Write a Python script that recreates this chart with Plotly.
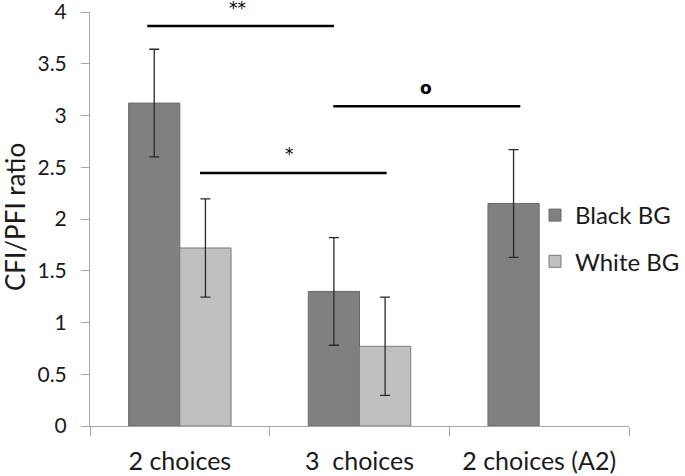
import plotly.graph_objects as go

categories = ["2 choices", "3  choices", "2 choices (A2)"]
black_vals = [3.12, 1.30, 2.15]
black_err = [0.52, 0.52, 0.52]
white_vals = [1.72, 0.77, None]
white_err = [0.475, 0.475, None]

# significance brackets
sig_x0 = [-0.181, 0.112, 0.854]
sig_x1 = [0.858, 1.151, 1.895]
sig_y = [3.865, 2.444, 3.089]
sig_labels = ["**", "*", "<b>o</b>"]
sig_label_x = [0.320, 0.613, 1.370]

FONT = "Lato"
SYMFONT = "DejaVu Sans"
Y_MAX = 4
label_shift = [17.5, 19.5, 18]

W, H = 685, 476
L, T, B = 90, 12, 50
PLOT_RIGHT = 629
PAPER_W = W - L

fig = go.Figure()
fig.add_trace(go.Bar(
    x=categories, y=black_vals, name="Black BG", legendgroup="a",
    marker=dict(color="#808080", line=dict(color="#6a6a6a", width=1)),
    error_y=dict(type="data", array=black_err, color="#2a2a2a", thickness=1.3, width=5),
))
fig.add_trace(go.Bar(
    x=categories, y=white_vals, name="White BG", legendgroup="b",
    marker=dict(color="#c0c0c0", line=dict(color="#7a7a7a", width=1)),
    error_y=dict(type="data", array=white_err, color="#2a2a2a", thickness=1.3, width=5),
))

for x0, x1, y in zip(sig_x0, sig_x1, sig_y):
    fig.add_shape(type="line", xref="x", yref="y", x0=x0, x1=x1, y0=y, y1=y,
                  line=dict(color="black", width=2.5))
for lx, ly, t, dy in zip(sig_label_x, sig_y, sig_labels, label_shift):
    fig.add_annotation(x=lx, y=ly, xref="x", yref="y", yshift=dy, text=t, showarrow=False,
                       font=dict(family=SYMFONT, size=17, color="black"))

fig.add_annotation(x=(15 - L) / PAPER_W, y=(426 - 217) / 414, xref="paper", yref="paper",
                   text="CFI/PFI ratio", textangle=-90, showarrow=False,
                   xanchor="center", yanchor="middle",
                   font=dict(family=FONT, size=26, color="#1a1a1a"))

fig.update_layout(
    width=W, height=H,
    margin=dict(l=L, r=0, t=T, b=B),
    paper_bgcolor="white", plot_bgcolor="white",
    barmode="group", bargap=0.43, bargroupgap=0,
    font=dict(family=FONT, color="#1a1a1a"),
    showlegend=True,
    legend=dict(x=1, y=(426 - 193) / 414,
                xanchor="right", yanchor="top",
                font=dict(family=FONT, size=24, color="#1a1a1a"),
                tracegroupgap=12, bgcolor="rgba(0,0,0,0)"),
)
fig.update_xaxes(
    domain=[0, (PLOT_RIGHT - L) / PAPER_W],
    automargin=False, tickangle=0,
    showline=True, linecolor="#a6a6a6", linewidth=1,
    ticks="outside", tickson="boundaries", ticklen=9, tickcolor="#a6a6a6",
    tickfont=dict(family=FONT, size=25, color="#1a1a1a"),
    ticklabelstandoff=13, ticklabeloverflow="allow",
    showgrid=False, zeroline=False,
)
fig.update_yaxes(
    automargin=False,
    range=[0, Y_MAX], dtick=0.5, tickformat="~g",
    showline=True, linecolor="#a6a6a6", linewidth=1,
    ticks="outside", ticklen=8, tickcolor="#a6a6a6",
    tickfont=dict(family=FONT, size=21, color="#1a1a1a"),
    ticklabelstandoff=10, ticklabeloverflow="allow",
    showgrid=False, zeroline=False,
)

fig.write_html("out.html", config={"displayModeBar": False},
               post_script="document.body.style.margin='0';")
